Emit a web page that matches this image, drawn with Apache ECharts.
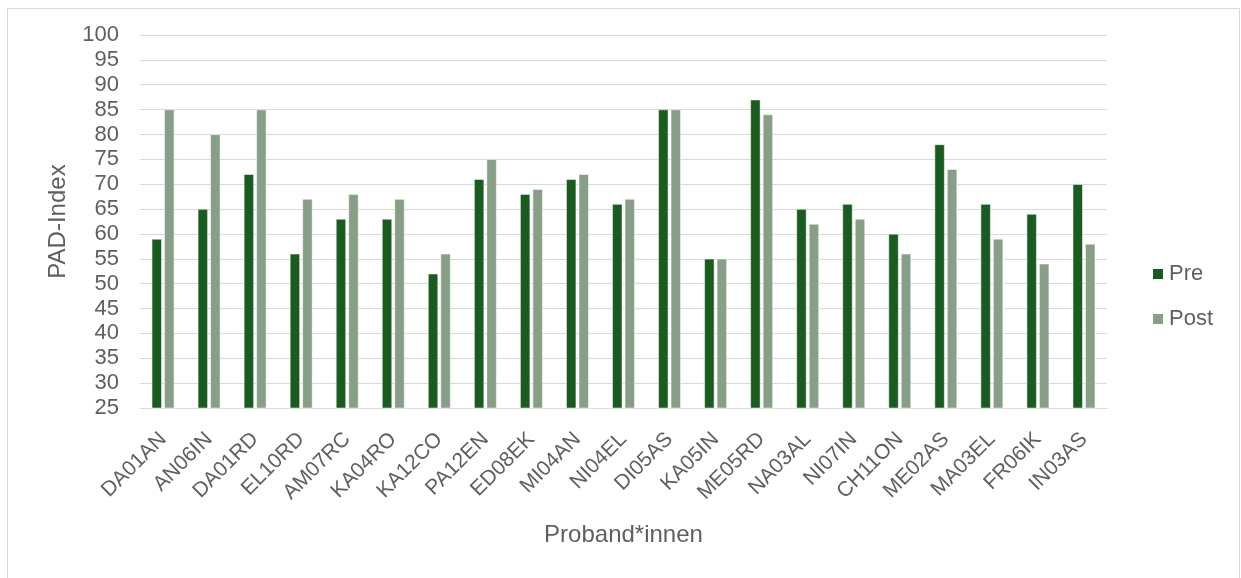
<html>
<head>
    <meta http-equiv="Content-Type" content="text/html; charset=utf-8" />
    <title>PAD-Index</title>
    <style>
        body { margin: 0; background: #fff; }
    </style>
</head>
<body>
    <div id="container" style="width:1241px;height:578px;"></div>
    <script src="https://cdn.jsdelivr.net/npm/echarts@6/dist/echarts.min.js"></script>
    <script type="text/javascript">
    var probanden = ['DA01AN', 'AN06IN', 'DA01RD', 'EL10RD', 'AM07RC', 'KA04RO', 'KA12CO', 'PA12EN', 'ED08EK', 'MI04AN', 'NI04EL',
        'DI05AS', 'KA05IN', 'ME05RD', 'NA03AL', 'NI07IN', 'CH11ON', 'ME02AS', 'MA03EL', 'FR06IK', 'IN03AS'];
    var pre = [59, 65, 72, 56, 63, 63, 52, 71, 68, 71, 66, 85, 55, 87, 65, 66, 60, 78, 66, 64, 70];
    var post = [85, 80, 85, 67, 68, 67, 56, 75, 69, 72, 67, 85, 55, 84, 62, 63, 56, 73, 59, 54, 58];

    var txtColor = '#5f5f5f';
    var font = '"Liberation Sans", Arial, sans-serif';

    var myChart = echarts.init(document.getElementById('container'));

    myChart.setOption({
        animation: false,
        textStyle: { fontFamily: font },
        graphic: [{
            type: 'rect',
            shape: { x: 7.5, y: 8.5, width: 1232, height: 580 },
            style: { fill: 'none', stroke: '#d9d9d9', lineWidth: 1 }
        }],
        grid: { left: 140, right: 134, top: 35, bottom: 170 },
        legend: {
            orient: 'vertical',
            left: 1146,
            top: 258,
            itemWidth: 12,
            itemHeight: 12,
            itemGap: 23,
            icon: 'rect',
            textStyle: { color: txtColor, fontSize: 22, fontFamily: font },
            data: ['Pre', 'Post']
        },
        xAxis: {
            type: 'category',
            data: probanden,
            name: 'Proband*innen',
            nameLocation: 'middle',
            nameGap: 115,
            nameTextStyle: { color: txtColor, fontSize: 24 },
            axisLine: { lineStyle: { color: '#d9d9d9' } },
            axisTick: { show: false },
            axisLabel: { rotate: 45, color: txtColor, fontSize: 21, margin: 28, interval: 0 }
        },
        yAxis: {
            type: 'value',
            min: 25,
            max: 100,
            interval: 5,
            name: 'PAD-Index',
            nameLocation: 'middle',
            nameGap: 70,
            nameTextStyle: { color: txtColor, fontSize: 24 },
            axisLine: { show: false },
            axisTick: { show: false },
            axisLabel: { color: txtColor, fontSize: 22, margin: 21 },
            splitLine: { lineStyle: { color: '#d9d9d9', width: 1 } }
        },
        series: [{
            type: 'bar',
            name: 'Pre',
            data: pre,
            barWidth: 10,
            barGap: '25%',
            itemStyle: { color: '#1a5c20', borderColor: '#ffffff', borderWidth: 0.5 }
        }, {
            type: 'bar',
            name: 'Post',
            data: post,
            barWidth: 10,
            itemStyle: { color: '#879e87', borderColor: '#ffffff', borderWidth: 0.5 }
        }]
    });
    </script>
</body>
</html>
